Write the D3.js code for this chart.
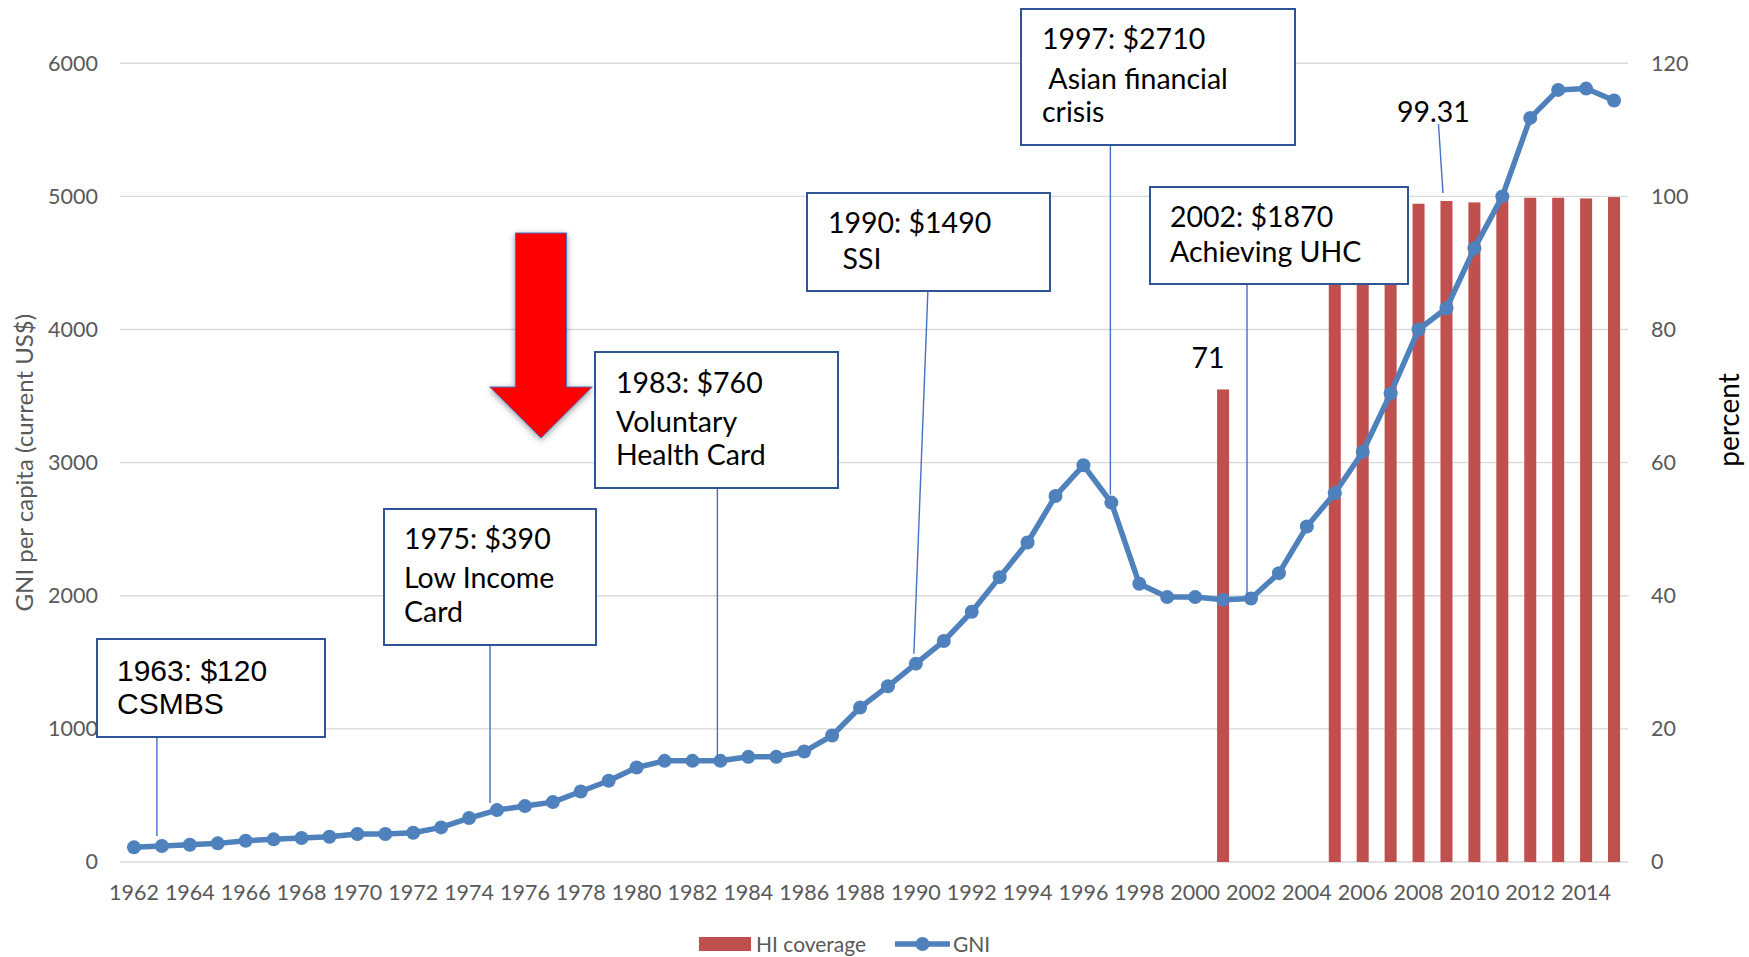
<!DOCTYPE html>
<html>
<head>
<meta charset="utf-8">
<script src="https://cdnjs.cloudflare.com/ajax/libs/d3/7.8.5/d3.min.js"></script>
<style>
  body { margin: 0; background: #fff; }
  svg { font-family: Lato, "Open Sans", sans-serif; }
</style>
</head>
<body>
<div class="chart"></div>
<script>
// data
const years = d3.range(1962, 2016)
const gni = [110, 120, 130, 140, 160, 170, 180, 190, 210, 210,
             220, 260, 330, 390, 420, 450, 530, 610, 710, 760,
             760, 760, 790, 790, 830, 950, 1160, 1320, 1490, 1660,
             1880, 2140, 2400, 2750, 2980, 2700, 2090, 1990, 1990, 1970,
             1980, 2170, 2520, 2770, 3080, 3520, 4000, 4160, 4610, 5000,
             5590, 5800, 5810, 5720]
const coverageYears = [2001, 2005, 2006, 2007, 2008, 2009, 2010, 2011, 2012, 2013, 2014, 2015]
const coverage = [71, 95.5, 96.3, 97.7, 98.9, 99.31, 99.1, 99.5, 99.8, 99.8, 99.7, 99.9]
const gniTicks = [0, 1000, 2000, 3000, 4000, 5000, 6000]
const pctTicks = [0, 20, 40, 60, 80, 100, 120]
const yearTicks = years.filter(y => y % 2 == 0)

// annotation boxes: text + anchor year
const notes = [
  {year: 1963, lines: ['1963: $120', 'CSMBS']},
  {year: 1975, lines: ['1975: $390', 'Low Income', 'Card']},
  {year: 1983, lines: ['1983: $760', 'Voluntary', 'Health Card']},
  {year: 1990, lines: ['1990: $1490', '\u00a0 SSI']},
  {year: 1997, lines: ['1997: $2710', '\u00a0Asian financial', 'crisis']},
  {year: 2002, lines: ['2002: $1870', 'Achieving UHC']}
]

// layout of the boxes (pixels)
const boxLayout = {
  1963: {x: 97, y: 639, w: 228, h: 98, tx: 117, ty: [670, 703], font: 'Liberation Sans, Arial, sans-serif', size: 30, sx: -5, dy: 10},
  1975: {x: 384, y: 509, w: 212, h: 136, tx: 404, ty: [539, 578, 612], size: 28.5, sx: -7, dy: 7},
  1983: {x: 595, y: 352, w: 243, h: 136, tx: 616, ty: [383, 422, 455], size: 28.5, sx: -3, dy: 2},
  1990: {x: 807, y: 193, w: 243, h: 98, tx: 828, ty: [223, 259], size: 28.5, sx: 12, ex: -2, dy: 10},
  1997: {x: 1021, y: 9, w: 274, h: 136, tx: 1042, ty: [39, 79, 112], size: 28.5, sx: -1, dy: 8},
  2002: {x: 1150, y: 187, w: 258, h: 97, tx: 1170, ty: [217, 252], size: 28.5, sx: -4, dy: 2}
}

const W = 1749, H = 957
const plotLeft = 120, plotRight = 1628, plotTop = 63.3, plotBottom = 862

const svg = d3.select('.chart').append('svg')
    .attr('width', W)
    .attr('height', H)

let x = d3.scaleBand()
    .domain(years)
    .range([plotLeft, plotRight])
    .paddingInner(0.57)
    .paddingOuter(0.285)
const cx = yr => x(yr) + x.bandwidth() / 2

let yL = d3.scaleLinear().domain([0, 6000]).range([plotBottom, plotTop])
let yR = d3.scaleLinear().domain([0, 120]).range([plotBottom, plotTop])

// gridlines
svg.append('g').selectAll('line')
    .data(gniTicks)
    .join('line')
    .attr('x1', plotLeft).attr('x2', plotRight)
    .attr('y1', d => yL(d)).attr('y2', d => yL(d))
    .attr('stroke', '#d9d9d9')
    .attr('stroke-width', 1.4)

// axes
const styleAxis = g => {
    g.select('.domain').remove()
    g.selectAll('text').attr('fill', '#595959').style('font-size', '21.5px').style('font-family', 'Lato')
}
svg.append('g')
    .attr('transform', `translate(${plotLeft},0)`)
    .call(d3.axisLeft(yL).tickValues(gniTicks).tickFormat(d3.format('d')).tickSize(0).tickPadding(22))
    .call(styleAxis)
svg.append('g')
    .attr('transform', `translate(${plotRight},0)`)
    .call(d3.axisRight(yR).tickValues(pctTicks).tickSize(0).tickPadding(23))
    .call(styleAxis)
svg.append('g')
    .attr('transform', `translate(0,${plotBottom})`)
    .call(d3.axisBottom(x).tickValues(yearTicks).tickSize(0).tickPadding(23))
    .call(styleAxis)

// axis titles
svg.append('text')
    .attr('transform', `translate(33,${(plotTop + plotBottom) / 2}) rotate(-90)`)
    .attr('text-anchor', 'middle')
    .attr('fill', '#595959')
    .style('font-size', '24px')
    .text('GNI per capita (current US$)')
svg.append('text')
    .attr('transform', `translate(1739,420) rotate(-90)`)
    .attr('text-anchor', 'middle')
    .attr('fill', '#000')
    .style('font-size', '28px')
    .text('percent')

// HI coverage bars
const covData = coverageYears.map((yr, i) => ({year: yr, value: coverage[i]}))
svg.append('g').selectAll('rect')
    .data(covData)
    .join('rect')
    .attr('x', d => x(d.year))
    .attr('width', x.bandwidth())
    .attr('y', d => yR(d.value))
    .attr('height', d => yR(0) - yR(d.value))
    .attr('fill', '#c0504d')

// GNI line
const gniData = years.map((yr, i) => ({year: yr, value: gni[i]}))
const line = d3.line()
    .x(d => cx(d.year))
    .y(d => yL(d.value))
svg.append('path')
    .datum(gniData)
    .attr('d', line)
    .attr('fill', 'none')
    .attr('stroke', '#4f81bd')
    .attr('stroke-width', 5.5)
    .attr('stroke-linejoin', 'round')
svg.append('g').selectAll('circle')
    .data(gniData)
    .join('circle')
    .attr('cx', d => cx(d.year))
    .attr('cy', d => yL(d.value))
    .attr('r', 7)
    .attr('fill', '#4f81bd')

// leader lines
const gniOf = yr => gni[years.indexOf(yr)]
svg.append('g').selectAll('line')
    .data(notes)
    .join('line')
    .attr('x1', d => cx(d.year) + boxLayout[d.year].sx)
    .attr('y1', d => boxLayout[d.year].y + boxLayout[d.year].h)
    .attr('x2', d => cx(d.year) + (boxLayout[d.year].ex !== undefined ? boxLayout[d.year].ex : boxLayout[d.year].sx))
    .attr('y2', d => yL(gniOf(d.year)) - boxLayout[d.year].dy)
    .attr('stroke', '#4472c4')
    .attr('stroke-width', 1.4)

// data labels for coverage
const covLabels = [
  {year: 2001, text: '71', dx: -15, ty: 358, lead: false},
  {year: 2009, text: '99.31', dx: -13, ty: 112, lead: true}
]
svg.append('g').selectAll('text')
    .data(covLabels)
    .join('text')
    .attr('x', d => cx(d.year) + d.dx)
    .attr('y', d => d.ty)
    .attr('dy', '0.35em')
    .attr('text-anchor', 'middle')
    .style('font-size', '28.5px')
    .attr('fill', '#000')
    .text(d => d.text)
svg.append('g').selectAll('line')
    .data(covLabels.filter(d => d.lead))
    .join('line')
    .attr('x1', d => cx(d.year) - 8)
    .attr('y1', d => d.ty + 12)
    .attr('x2', d => cx(d.year) - 3.5)
    .attr('y2', d => yR(coverage[coverageYears.indexOf(d.year)]) - 8)
    .attr('stroke', '#4472c4')
    .attr('stroke-width', 1.4)

// boxes
const boxes = svg.append('g').selectAll('g')
    .data(notes)
    .join('g')
boxes.append('rect')
    .attr('x', d => boxLayout[d.year].x)
    .attr('y', d => boxLayout[d.year].y)
    .attr('width', d => boxLayout[d.year].w)
    .attr('height', d => boxLayout[d.year].h)
    .attr('fill', '#fff')
    .attr('stroke', '#2f5597')
    .attr('stroke-width', 2)
boxes.each(function(d) {
    const b = boxLayout[d.year]
    d3.select(this).selectAll('text')
        .data(d.lines)
        .join('text')
        .attr('x', b.tx)
        .attr('y', (t, i) => b.ty[i])
        .attr('dy', '0.36em')
        .style('font-size', b.size + 'px')
        .style('font-family', b.font || 'Lato')
        .attr('fill', '#000')
        .text(t => t)
})

// red arrow
const defs = svg.append('defs')
const shadow = defs.append('filter').attr('id', 'shadow')
    .attr('x', '-30%').attr('y', '-30%').attr('width', '160%').attr('height', '160%')
shadow.append('feDropShadow')
    .attr('dx', 0).attr('dy', 2)
    .attr('stdDeviation', 3)
    .attr('flood-color', '#000')
    .attr('flood-opacity', 0.4)
const arrow = {cx: 541, top: 233, neck: 387, tip: 438, shaft: 25.6, head: 51.3}
svg.append('path')
    .attr('d', d3.line()([
        [arrow.cx - arrow.shaft, arrow.top],
        [arrow.cx + arrow.shaft, arrow.top],
        [arrow.cx + arrow.shaft, arrow.neck],
        [arrow.cx + arrow.head, arrow.neck],
        [arrow.cx, arrow.tip],
        [arrow.cx - arrow.head, arrow.neck],
        [arrow.cx - arrow.shaft, arrow.neck]
    ]) + 'Z')
    .attr('fill', '#ff0000')
    .attr('stroke', '#4472c4')
    .attr('stroke-width', 1)
    .attr('filter', 'url(#shadow)')

// legend
const legY = 944
const legend = svg.append('g')
legend.append('rect')
    .attr('x', 699).attr('y', legY - 7).attr('width', 52).attr('height', 14)
    .attr('fill', '#c0504d')
legend.append('text')
    .attr('x', 756).attr('y', legY).attr('dy', '0.36em')
    .attr('fill', '#595959').style('font-size', '21px')
    .text('HI coverage')
legend.append('line')
    .attr('x1', 895).attr('x2', 950).attr('y1', legY).attr('y2', legY)
    .attr('stroke', '#4f81bd').attr('stroke-width', 5.5)
legend.append('circle')
    .attr('cx', 922.5).attr('cy', legY).attr('r', 7)
    .attr('fill', '#4f81bd')
legend.append('text')
    .attr('x', 953).attr('y', legY).attr('dy', '0.36em')
    .attr('fill', '#595959').style('font-size', '21px')
    .text('GNI')
</script>
</body>
</html>
